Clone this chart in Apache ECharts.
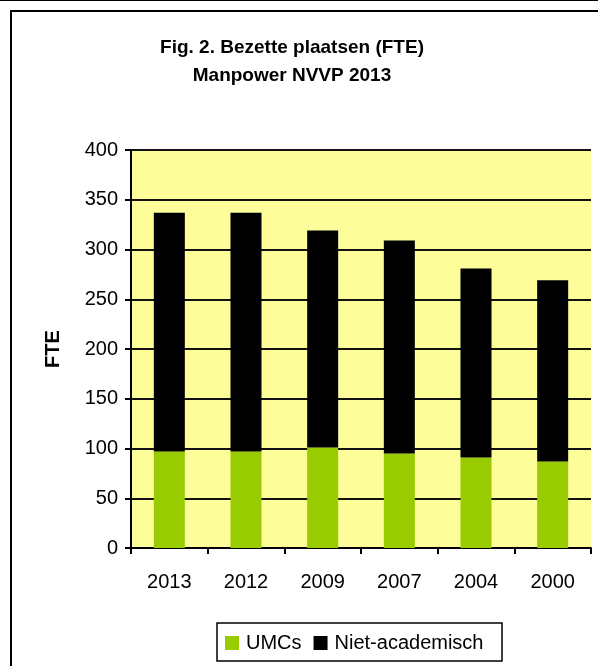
<!DOCTYPE html>
<html>
<head>
<meta charset="utf-8">
<script src="https://cdn.jsdelivr.net/npm/echarts@6/dist/echarts.min.js"></script>
<style>
html,body{margin:0;padding:0;background:#fff;}
#c{width:598px;height:666px;}
</style>
</head>
<body>
<div id="c"></div>
<script>
var categories = ['2013', '2012', '2009', '2007', '2004', '2000'];
var umcs = [97, 97, 101, 95, 91, 87];
var nietAcademisch = [240, 240, 218, 214, 190, 182];
var yTicks = [0, 50, 100, 150, 200, 250, 300, 350, 400];

var FONT = '"Liberation Sans", Arial, sans-serif';
var chart = echarts.init(document.getElementById('c'), null, {renderer: 'canvas'});
chart.setOption({
  animation: false,
  backgroundColor: '#ffffff',
  title: {
    text: 'Fig. 2. Bezette plaatsen (FTE)\nManpower NVVP 2013',
    left: 287, top: 29, textAlign: 'center',
    textStyle: {fontFamily: FONT, fontSize: 19, fontWeight: 'bold', color: '#000', lineHeight: 28}
  },
  graphic: [
    {type: 'rect', shape: {x: 0, y: 0, width: 598, height: 1}, style: {fill: '#000'}, z: 100},
    {type: 'rect', shape: {x: 11, y: 11, width: 620, height: 700}, style: {fill: 'none', stroke: '#000', lineWidth: 2}, z: 100},
    {type: 'rect', shape: {x: 217, y: 623, width: 285, height: 38}, style: {fill: 'none', stroke: '#000', lineWidth: 1.5}, z: 100}
  ],
  legend: {
    left: 225, top: 633, padding: 0,
    itemWidth: 14, itemHeight: 14, itemGap: 12,
    icon: 'rect',
    textStyle: {fontFamily: FONT, fontSize: 20, color: '#000', padding: [0,0,0,2]},
    data: ['UMCs', 'Niet-academisch']
  },
  grid: {left: 131, top: 150, right: 7, bottom: 118, show: true, backgroundColor: '#FDFD99', borderWidth: 0},
  xAxis: {
    type: 'category', data: categories,
    axisLine: {lineStyle: {color: '#000', width: 2}},
    axisTick: {show: true, length: 6, lineStyle: {color: '#000', width: 2}},
    axisLabel: {fontFamily: FONT, fontSize: 20, color: '#000', margin: 24}
  },
  yAxis: {
    type: 'value', min: 0, max: 400, interval: 50,
    name: 'FTE', nameLocation: 'middle', nameGap: 68, nameRotate: 90,
    nameTextStyle: {fontFamily: FONT, fontSize: 20, fontWeight: 'bold', color: '#000'},
    axisLine: {show: true, lineStyle: {color: '#000', width: 2}},
    axisTick: {show: true, length: 6, lineStyle: {color: '#000', width: 2}},
    axisLabel: {fontFamily: FONT, fontSize: 20, color: '#000', margin: 13,
      formatter: function (v) { return yTicks.indexOf(v) >= 0 ? String(v) : ''; }},
    splitLine: {show: true, lineStyle: {color: '#111', width: 2}}
  },
  series: [
    {name: 'UMCs', type: 'bar', stack: 'a', data: umcs, barWidth: 31,
      itemStyle: {color: '#99CC00'}},
    {name: 'Niet-academisch', type: 'bar', stack: 'a', data: nietAcademisch, barWidth: 31,
      itemStyle: {color: '#000000'}}
  ]
});
</script>
</body>
</html>
